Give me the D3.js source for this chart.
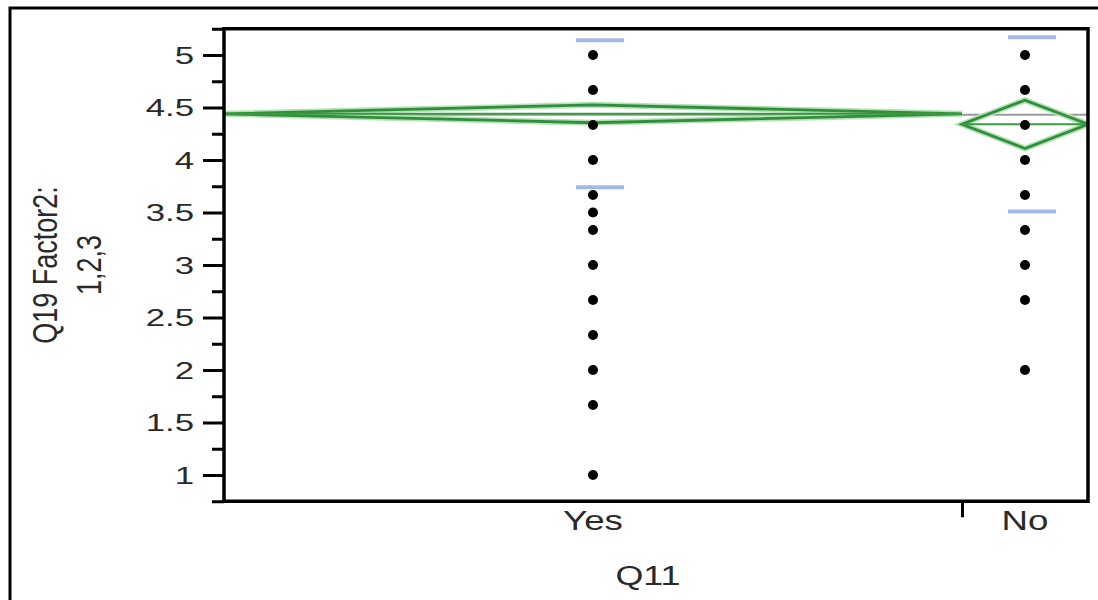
<!DOCTYPE html>
<html><head><meta charset="utf-8">
<script src="https://cdn.jsdelivr.net/npm/d3@7"></script>
<style>body{margin:0;background:#fff}svg{display:block}</style>
</head><body>
<svg id="chart" width="1098" height="600"></svg>
<script>
// ---- data ----
const groups = ["Yes", "No"];
const groupCounts = [41, 7];
const yesValues = [5, 4.667, 4.333, 4, 3.667, 3.5, 3.333, 3, 2.667, 2.333, 2, 1.667, 1];
const noValues = [5, 4.667, 4.333, 4, 3.667, 3.333, 3, 2.667, 2];
const groupMeans = [4.44, 4.34];
const ciHalfWidths = [0.085, 0.23];
const stdDevs = [0.70, 0.83];
const grandMean = 4.43;
const yTickValues = [1, 1.5, 2, 2.5, 3, 3.5, 4, 4.5, 5];
const yTickLabels = ["1", "1.5", "2", "2.5", "3", "3.5", "4", "4.5", "5"];
const yMinorTicks = [0.75, 1.25, 1.75, 2.25, 2.75, 3.25, 3.75, 4.25, 4.75, 5.25];
const yTitleLines = ["Q19 Factor2:", "1,2,3"];
const xTitle = "Q11";

// ---- layout ----
const svg = d3.select("#chart");
const L = 224, R = 1088, T = 28.75, B = 501.25;
const font = "'Liberation Sans', Arial, sans-serif";
const textColor = "#2a2a2a";

const y = d3.scaleLinear().domain([0.75, 5.25]).range([B, T]);
const total = d3.sum(groupCounts);
const x = d3.scaleLinear().domain([0, total]).range([L, R]);
const cum = [0]; groupCounts.forEach((c, i) => cum.push(cum[i] + c));
const gStart = i => x(cum[i]), gEnd = i => x(cum[i + 1]), gMid = i => x(cum[i] + groupCounts[i] / 2);
const groupValues = [yesValues, noValues];

// outer frame (left and top edges)
svg.append("path").attr("d", "M10,600 V8 H1098").attr("fill", "none").attr("stroke", "#000").attr("stroke-width", 3);

// y axis major ticks
const yAxis = svg.append("g").attr("transform", `translate(${L},0)`)
  .call(d3.axisLeft(y).tickValues(yTickValues).tickSize(21).tickFormat(""));
yAxis.select(".domain").remove();
yAxis.selectAll("line").attr("stroke", "#000").attr("stroke-width", 3);
const yMinor = svg.append("g").attr("transform", `translate(${L},0)`)
  .call(d3.axisLeft(y).tickValues(yMinorTicks).tickSize(12).tickFormat(""));
yMinor.select(".domain").remove();
yMinor.selectAll("line").attr("stroke", "#000").attr("stroke-width", 3);

// y tick labels
svg.append("g").selectAll("text").data(yTickValues).join("text")
  .attr("transform", d => `translate(194,${y(d)}) scale(1.45,1)`)
  .attr("dy", "0.36em").attr("text-anchor", "end")
  .attr("font-family", font).attr("font-size", 24).attr("fill", textColor)
  .text((d, i) => yTickLabels[i]);

// x axis boundary tick
const xAxis = svg.append("g").attr("transform", `translate(0,${B})`)
  .call(d3.axisBottom(x).tickValues([cum[1]]).tickSize(16).tickFormat(""));
xAxis.select(".domain").remove();
xAxis.selectAll("line").attr("stroke", "#000").attr("stroke-width", 3);

// x labels
svg.append("g").selectAll("text").data(groups).join("text")
  .attr("transform", (d, i) => `translate(${gMid(i)},530) scale(1.36,1)`)
  .attr("text-anchor", "middle")
  .attr("font-family", font).attr("font-size", 27).attr("fill", textColor)
  .text(d => d);

svg.append("text").attr("transform", `translate(648,585) scale(1.33,1)`)
  .attr("text-anchor", "middle").attr("font-family", font).attr("font-size", 27).attr("fill", textColor)
  .text(xTitle);

// y title
const yTitleX = [57, 101];
svg.append("g").selectAll("text").data(yTitleLines).join("text")
  .attr("transform", (d, i) => `translate(${yTitleX[i]},265) scale(1.3,1) rotate(-90)`)
  .attr("text-anchor", "middle")
  .attr("font-family", font).attr("font-size", 27).attr("fill", textColor)
  .text(d => d);

// clip
svg.append("clipPath").attr("id", "pc").append("rect")
  .attr("x", L).attr("y", T).attr("width", R - L).attr("height", B - T);
const plot = svg.append("g").attr("clip-path", "url(#pc)");

// grand mean line (gray)
plot.append("line").attr("x1", L).attr("x2", R).attr("y1", y(grandMean)).attr("y2", y(grandMean))
  .attr("stroke", "#9a9a9a").attr("stroke-width", 2);

// means diamonds
groups.forEach((g, i) => {
  const x0 = gStart(i), x1 = gEnd(i), xm = (x0 + x1) / 2;
  const m = groupMeans[i], h = ciHalfWidths[i];
  const pts = [[x0, y(m)], [xm, y(m + h)], [x1, y(m)], [xm, y(m - h)]];
  const d = "M" + pts.map(p => p.join(",")).join("L") + "Z";
  plot.append("path").attr("d", d).attr("fill", "none").attr("stroke", "#b4e2b4").attr("stroke-width", 6);
  plot.append("path").attr("d", d).attr("fill", "none").attr("stroke", "#2f8f3a").attr("stroke-width", 2.8)
    .attr("stroke-linejoin", "miter");
  plot.append("line").attr("x1", x0).attr("x2", x1).attr("y1", y(m)).attr("y2", y(m))
    .attr("stroke", "#3a9a42").attr("stroke-width", 2);
});

// std dev lines (blue)
groups.forEach((g, i) => {
  const xm = gMid(i);
  [groupMeans[i] + stdDevs[i], groupMeans[i] - stdDevs[i]].forEach(v => {
    plot.append("line").attr("x1", xm - 17).attr("x2", xm + 31).attr("y1", y(v)).attr("y2", y(v))
      .attr("stroke", "#a6b8e8").attr("stroke-width", 4);
  });
});

// points
groups.forEach((g, i) => {
  plot.append("g").selectAll("circle").data(groupValues[i]).join("circle")
    .attr("cx", gMid(i)).attr("cy", d => y(d)).attr("r", 5).attr("fill", "#000");
});

// plot frame
svg.append("rect").attr("x", L).attr("y", T).attr("width", R - L).attr("height", B - T)
  .attr("fill", "none").attr("stroke", "#000").attr("stroke-width", 3.5);
</script>
</body></html>
